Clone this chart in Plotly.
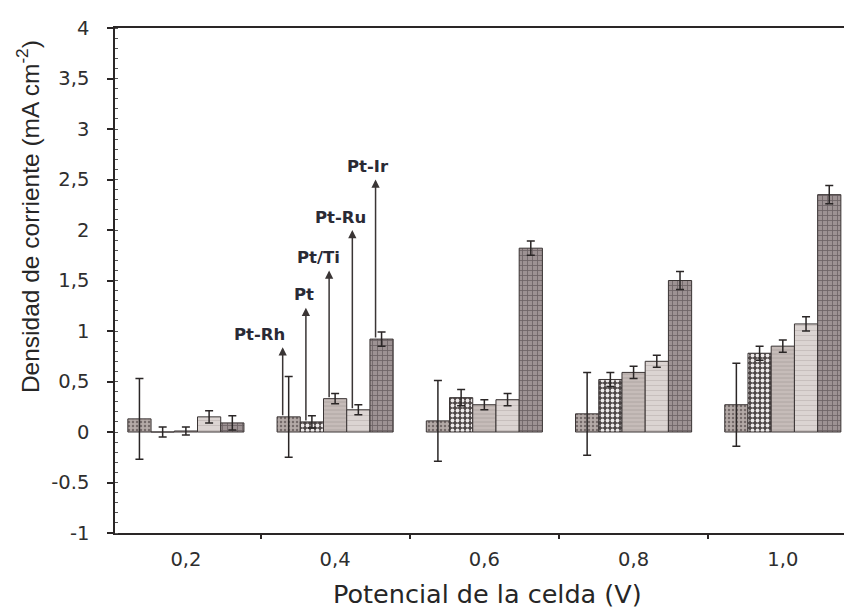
import plotly.graph_objects as go

# Cell potential groups (V) and their tick labels
potentials = [0.2, 0.4, 0.6, 0.8, 1.0]
potential_labels = ["0,2", "0,4", "0,6", "0,8", "1,0"]

# Catalysts in bar order within each group
catalysts = ["Pt-Rh", "Pt", "Pt/Ti", "Pt-Ru", "Pt-Ir"]

# Current density (mA cm-2) per catalyst, one value per potential
pt_rh = [0.13, 0.15, 0.11, 0.18, 0.27]
pt = [0.00, 0.10, 0.34, 0.52, 0.78]
pt_ti = [0.01, 0.33, 0.27, 0.59, 0.85]
pt_ru = [0.15, 0.22, 0.32, 0.70, 1.07]
pt_ir = [0.09, 0.92, 1.82, 1.50, 2.35]

# Error (+/-) for each value
pt_rh_err = [0.40, 0.40, 0.40, 0.41, 0.41]
pt_err = [0.05, 0.06, 0.08, 0.07, 0.07]
pt_ti_err = [0.04, 0.05, 0.05, 0.06, 0.06]
pt_ru_err = [0.06, 0.05, 0.06, 0.06, 0.07]
pt_ir_err = [0.07, 0.07, 0.07, 0.09, 0.09]

# Heights reached by the labelled arrows over the 0,4 V group
arrow_top = [0.84, 1.23, 1.60, 2.00, 2.50]

# Y-axis ticks
y_tickvals = [-1, -0.5, 0, 0.5, 1, 1.5, 2, 2.5, 3, 3.5, 4]
y_ticktext = ["-1", "-0.5", "0", "0,5", "1", "1,5", "2", "2,5", "3", "3,5", "4"]

values = [pt_rh, pt, pt_ti, pt_ru, pt_ir]
errors = [pt_rh_err, pt_err, pt_ti_err, pt_ru_err, pt_ir_err]

# Fill pattern per catalyst
styles = [
    dict(shape=".", bgcolor="#b4aaa7", fgcolor="#756b6a", size=4, solidity=0.3),
    dict(shape=".", bgcolor="#4b4444", fgcolor="#ece8e8", size=5, solidity=0.45),
    dict(shape="-", bgcolor="#c6bcb9", fgcolor="#a79d9b", size=4, solidity=0.2),
    dict(shape="-", bgcolor="#dbd4d2", fgcolor="#c0b8b6", size=5, solidity=0.15),
    dict(shape="+", bgcolor="#9d9293", fgcolor="#6c6264", size=5, solidity=0.3),
]
label_shift = [-23, -2, -11, -12, -8]

BARGAP = 0.222
INK = "#2a2626"

fig = go.Figure()
for name, vals, errs, st in zip(catalysts, values, errors, styles):
    fig.add_trace(go.Bar(
        x=potentials, y=vals, name=name,
        marker=dict(color=st["bgcolor"], line=dict(color="#3a3434", width=1),
                    pattern=dict(fillmode="replace", **st)),
        error_y=dict(type="data", array=errs, visible=True,
                     color=INK, thickness=1.5, width=4),
        showlegend=False,
    ))

# Arrows and labels over the 0,4 V group
group_w = (1 - BARGAP) * (potentials[1] - potentials[0])
bar_w = group_w / len(catalysts)
g = potentials[1]
for i, name in enumerate(catalysts):
    xc = g + (i - (len(catalysts) - 1) / 2) * bar_w
    fig.add_annotation(
        x=xc, y=arrow_top[i], ax=xc, ay=values[i][1],
        xref="x", yref="y", axref="x", ayref="y",
        text="", showarrow=True, arrowhead=2, arrowsize=1.1,
        arrowwidth=1.5, arrowcolor="#3a3535", xshift=-6, standoff=0,
    )
    fig.add_annotation(
        x=xc, y=arrow_top[i], xref="x", yref="y",
        text=f"<b>{name}</b>", showarrow=False,
        font=dict(family="DejaVu Sans", size=16.5, color="#2a2a35"),
        xanchor="center", yanchor="middle",
        xshift=-6 + label_shift[i], yshift=13,
    )

# Axis titles
fig.add_annotation(
    x=0.511, y=-0.121, xref="paper", yref="paper",
    text="Potencial de la celda (V)", showarrow=False,
    font=dict(family="DejaVu Sans", size=25.5, color="#262626"),
    xanchor="center", yanchor="middle",
)
fig.add_annotation(
    x=-0.119, y=0.626, xref="paper", yref="paper",
    text="Densidad de corriente (mA cm<sup>-2</sup>)", showarrow=False,
    textangle=-90,
    font=dict(family="Liberation Sans", size=24.5, color="#262626"),
    xanchor="center", yanchor="middle",
)

fig.update_layout(
    width=844, height=610,
    margin=dict(l=115, r=0, t=28, b=77),
    paper_bgcolor="white", plot_bgcolor="white",
    barmode="group", bargap=BARGAP, bargroupgap=0,
    font=dict(family="DejaVu Sans", color="#2e2e2e"),
)
fig.update_xaxes(
    range=[0.105, 1.082],
    tickmode="array", tickvals=potentials, ticktext=potential_labels,
    ticks="", ticklabelstandoff=8,
    tickfont=dict(family="DejaVu Sans", size=19.5, color="#2e2e2e"),
    minor=dict(tickmode="array", tickvals=[0.3, 0.5, 0.7, 0.9],
               ticks="outside", ticklen=4, tickcolor=INK, tickwidth=1.5),
    showline=True, linecolor=INK, linewidth=2, mirror=True,
    showgrid=False, zeroline=False,
)
fig.update_yaxes(
    range=[-1, 4],
    tickmode="array", tickvals=y_tickvals, ticktext=y_ticktext,
    ticks="outside", ticklen=6, tickwidth=1.5, tickcolor=INK,
    ticklabelstandoff=14,
    tickfont=dict(family="DejaVu Sans", size=19.5, color="#2e2e2e"),
    minor=dict(tickmode="linear", tick0=0, dtick=0.1, ticks="inside",
               ticklen=3, tickcolor="#555", tickwidth=1),
    showline=True, linecolor=INK, linewidth=1.5,
    showgrid=False, zeroline=False,
)

fig.write_html("out.html")
